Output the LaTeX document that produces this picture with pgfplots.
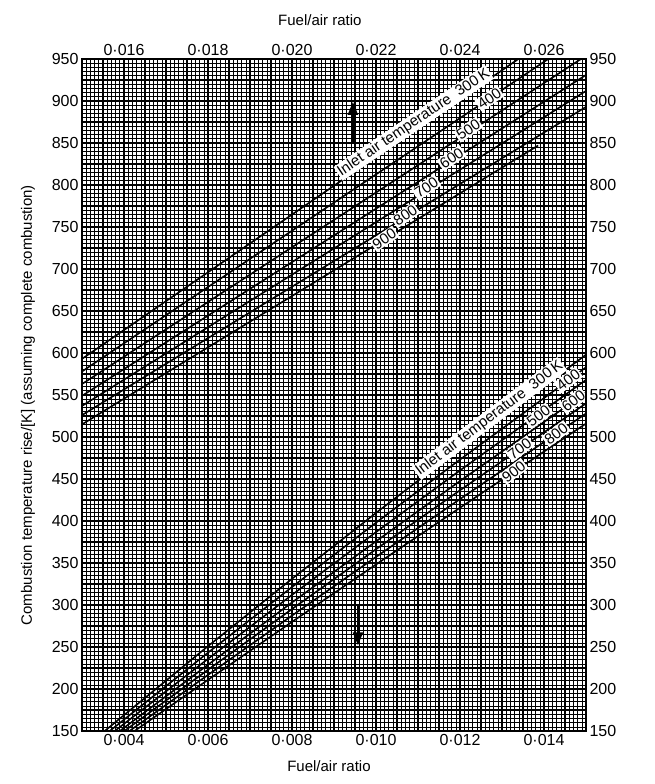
\documentclass[border=0pt]{standalone}
\usepackage{fontspec}
\setmainfont{Liberation Sans}
\usepackage{pgfplots}
\pgfplotsset{compat=1.18}
\usetikzlibrary{arrows.meta}
\tikzset{
  lbl/.style={fill=white, inner sep=1.2pt, font=\fontsize{15}{18}\selectfont},
  crv/.style={black, line width=1.6pt},
}
\begin{document}
\begin{tikzpicture}[font=\fontsize{15}{18}\selectfont]
\pgfplotsset{
  base/.style={
    scale only axis, width=504pt, height=672pt,
    ymin=150, ymax=950,
    scaled x ticks=false, scaled y ticks=false,
    axis line style={line width=1.6pt},
    major tick length=0pt, minor tick length=0pt,
    tick label style={font=\fontsize{16}{19}\selectfont},
    ytick={150,200,250,300,350,400,450,500,550,600,650,700,750,800,850,900,950},
    yticklabels={150,200,250,300,350,400,450,500,550,600,650,700,750,800,850,900,950},
  },
}
% ---------------- lower family (bottom axis) ----------------
\begin{axis}[base,
  xmin=0.003, xmax=0.015,
  xtick={0.003,0.004,0.005,0.006,0.007,0.008,0.009,0.010,0.011,0.012,0.013,0.014,0.015},
  xticklabels={,0·004,,0·006,,0·008,,0·010,,0·012,,0·014,},
  xticklabel pos=lower, yticklabel pos=left,
  minor x tick num=9, minor y tick num=9,
  grid=both,
  minor grid style={black, line width=0.6pt},
  major grid style={black, line width=1.9pt},
  extra x ticks={0.0035,0.0045,0.0055,0.0065,0.0075,0.0085,0.0095,0.0105,0.0115,0.0125,0.0135,0.0145},
  extra x tick labels={},
  extra x tick style={major grid style={black, line width=1.1pt}},
  extra y ticks={175,225,275,325,375,425,475,525,575,625,675,725,775,825,875,925},
  extra y tick labels={},
  extra y tick style={major grid style={black, line width=1.1pt}},
  xlabel={Fuel/air ratio},
  xlabel style={at={(axis description cs:0.49,-0.052)}, anchor=center},
  ylabel={Combustion temperature rise/[K] (assuming complete combustion)},
  ylabel style={at={(axis description cs:-0.107,0.485)}, anchor=center},
]
\addplot[crv] coordinates {(0.00354,150) (0.006,251.0) (0.008,331.2) (0.010,409.6) (0.012,486.3) (0.015,598)};
\addplot[crv] coordinates {(0.00366,150) (0.006,243.3) (0.008,321.4) (0.010,398.0) (0.012,473.1) (0.015,583)};
\addplot[crv] coordinates {(0.00378,150) (0.006,235.9) (0.008,312.0) (0.010,386.8) (0.012,460.2) (0.015,568)};
\addplot[crv] coordinates {(0.00390,150) (0.006,228.9) (0.008,303.0) (0.010,375.8) (0.012,447.6) (0.015,553)};
\addplot[crv] coordinates {(0.00401,150) (0.006,222.9) (0.008,295.2) (0.010,366.4) (0.012,436.6) (0.015,540)};
\addplot[crv] coordinates {(0.00413,150) (0.006,216.8) (0.008,287.4) (0.010,357.2) (0.012,426.1) (0.015,528)};
\addplot[crv] coordinates {(0.00425,150) (0.006,210.9) (0.008,279.9) (0.010,348.2) (0.012,415.8) (0.015,516)};
\node[lbl, rotate=37] at (axis cs:0.0127,522) {Inlet air temperature\ \ 300\,K};
\node[lbl, rotate=37] at (axis cs:0.01458,568) {400};
\node[lbl, rotate=37] at (axis cs:0.01387,525) {500};
\node[lbl, rotate=37] at (axis cs:0.0147,543) {600};
\node[lbl, rotate=37] at (axis cs:0.01342,486) {700};
\node[lbl, rotate=37] at (axis cs:0.01429,504) {800};
\node[lbl, rotate=37] at (axis cs:0.01328,459) {900};
\draw[black, line width=2pt, -{Triangle[width=10pt,length=13pt]}] (axis cs:0.00957,301) -- (axis cs:0.00957,252);
\coordinate (SW) at (rel axis cs:0,0);
\coordinate (NE) at (rel axis cs:1,1);
\end{axis}
% ---------------- upper family (top axis) ----------------
\begin{axis}[base,
  xmin=0.015, xmax=0.027,
  xtick={0.015,0.016,0.017,0.018,0.019,0.020,0.021,0.022,0.023,0.024,0.025,0.026,0.027},
  xticklabels={,0·016,,0·018,,0·020,,0·022,,0·024,,0·026,},
  xticklabel pos=upper, yticklabel pos=right,
  xlabel={Fuel/air ratio},
  xlabel style={at={(axis description cs:0.472,1.058)}, anchor=center},
]
\addplot[crv] coordinates {(0.015,593) (0.02539,950)};
\addplot[crv] coordinates {(0.015,578) (0.0261,950)};
\addplot[crv] coordinates {(0.015,563) (0.02688,950)};
\addplot[crv] coordinates {(0.015,549) (0.027,931)};
\addplot[crv] coordinates {(0.015,537) (0.027,912)};
\addplot[crv] coordinates {(0.015,526) (0.027,893)};
\addplot[crv] coordinates {(0.015,515) (0.02586,847)};
\node[lbl, rotate=34] at (axis cs:0.0229,874) {Inlet air temperature\ \ 300\,K};
\node[lbl, rotate=34] at (axis cs:0.0247,903) {400};
\node[lbl, rotate=34] at (axis cs:0.0242,866) {500};
\node[lbl, rotate=34] at (axis cs:0.0238,832) {600};
\node[lbl, rotate=34] at (axis cs:0.0232,797) {700};
\node[lbl, rotate=34] at (axis cs:0.0227,764) {800};
\node[lbl, rotate=34] at (axis cs:0.0222,736) {900};
\draw[black, line width=2pt, -{Triangle[width=10pt,length=13pt]}] (axis cs:0.02145,849) -- (axis cs:0.02145,899);
\end{axis}
\path (SW) ++(-82pt,-53pt) rectangle ([shift={(68pt,59pt)}]NE);
\end{tikzpicture}
\end{document}
